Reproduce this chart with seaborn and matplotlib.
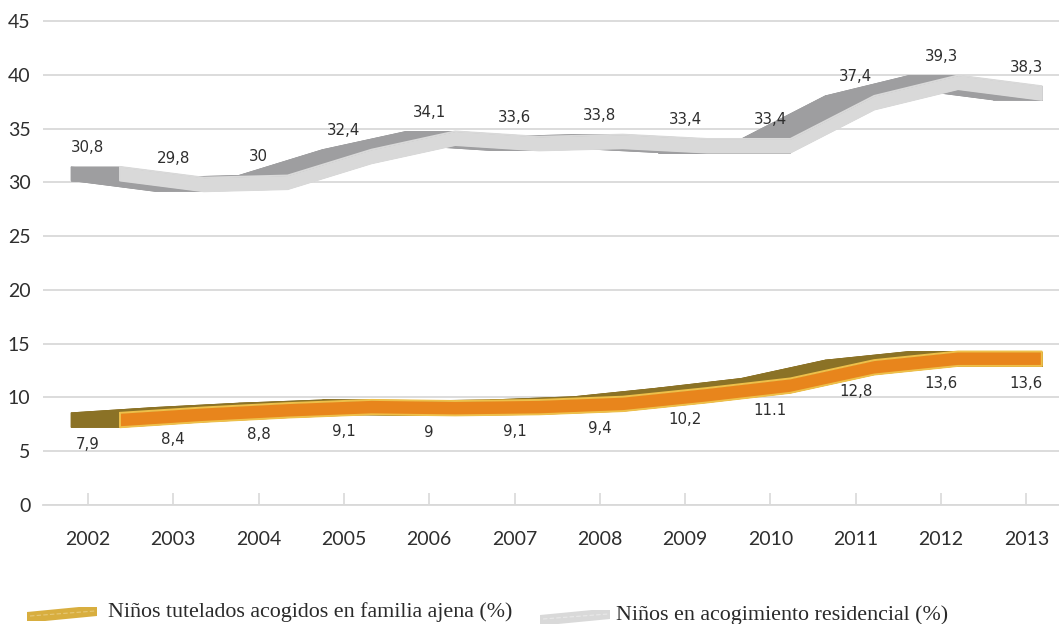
import numpy as np
import pandas as pd
import matplotlib
matplotlib.use("Agg")
import matplotlib.pyplot as plt
from matplotlib.patches import Polygon
import seaborn as sns

# ---- data -----------------------------------------------------------------
years = ["2002", "2003", "2004", "2005", "2006", "2007",
         "2008", "2009", "2010", "2011", "2012", "2013"]
residencial = [30.8, 29.8, 30.0, 32.4, 34.1, 33.6, 33.8, 33.4, 33.4, 37.4, 39.3, 38.3]
familia_ajena = [7.9, 8.4, 8.8, 9.1, 9.0, 9.1, 9.4, 10.2, 11.1, 12.8, 13.6, 13.6]
residencial_labels = ["30,8", "29,8", "30", "32,4", "34,1", "33,6",
                      "33,8", "33,4", "33,4", "37,4", "39,3", "38,3"]
familia_labels = ["7,9", "8,4", "8,8", "9,1", "9", "9,1",
                  "9,4", "10,2", "11.1", "12,8", "13,6", "13,6"]
legend_names = ["Niños tutelados acogidos en familia ajena (%)",
                "Niños en acogimiento residencial (%)"]
y_ticks = [0, 5, 10, 15, 20, 25, 30, 35, 40, 45]

# ---- figure / axes ----------------------------------------------------------
W, H = 1059, 624
sns.set_theme(style="whitegrid")
plt.rcParams["font.family"] = ["Lato", "DejaVu Sans"]

fig = plt.figure(figsize=(W / 100, H / 100), dpi=100)
UNIT_PX = 10.756          # pixels per percentage point
CAT_PX = 85.3             # pixels per year
Y_TOP = 45.3
ax_left, ax_bottom_px = 43, 505
ax_h_px = Y_TOP * UNIT_PX
ax = fig.add_axes([ax_left / W, (H - ax_bottom_px) / H, 1 - ax_left / W, ax_h_px / H])

x0_px = 88
ax.set_xlim((ax_left - x0_px) / CAT_PX, (W - x0_px) / CAT_PX)
ax.set_ylim(0, Y_TOP)

grid_c = "#d9d9d9"
text_c = "#2e2e2e"
ax.set_facecolor("white")
ax.grid(axis="y", color=grid_c, lw=1.3)
ax.grid(axis="x", visible=False)
for side in ["left", "right", "top"]:
    ax.spines[side].set_visible(False)
ax.spines["bottom"].set_color(grid_c)
ax.spines["bottom"].set_linewidth(1.3)

idx = np.arange(len(years))
ax.set_xticks(idx)
ax.set_xticklabels(years)
ax.set_yticks(y_ticks)
ax.set_yticklabels([str(t) for t in y_ticks])
ax.tick_params(axis="x", direction="in", length=8.5, width=1.2, color=grid_c,
               pad=19, labelsize=14, labelcolor=text_c, bottom=True)
ax.tick_params(axis="y", length=0, pad=9, labelsize=14, labelcolor=text_c)

# ---- 3-D ribbons ------------------------------------------------------------
PX_X = 1.0 / CAT_PX
PX_Y = 1.0 / UNIT_PX
depth = np.array([-49 * PX_X, 0.0])


def ribbon(values, face, side, edge, half_px):
    v = np.asarray(values, dtype=float)
    fx = idx + (32 - 1.5 * idx) * PX_X
    h = half_px * PX_Y
    top = np.column_stack([fx, v + h])
    bot = np.column_stack([fx, v - h])
    poly = np.vstack([top, bot[::-1]])

    # swept depth: back face plus the quads traced by every edge
    ax.add_patch(Polygon(poly + depth, closed=True, fc=side, ec=side, lw=0.6, zorder=3))
    n = len(poly)
    for k in range(n):
        p, q = poly[k], poly[(k + 1) % n]
        quad = np.array([p, q, q + depth, p + depth])
        ax.add_patch(Polygon(quad, closed=True, fc=side, ec=side, lw=0.6, zorder=3))

    # front face
    ax.fill_between(fx, v - h, v + h, color=face, lw=0, zorder=4)
    outline = pd.DataFrame({
        "x": np.concatenate([fx, fx[::-1], fx[:1]]),
        "y": np.concatenate([v + h, (v - h)[::-1], (v + h)[:1]]),
    })
    sns.lineplot(data=outline, x="x", y="y", sort=False, estimator=None,
                 color=edge, lw=1.4, ax=ax, zorder=5)


ribbon(residencial, "#d9d9d9", "#9e9ea0", "#d9d9d9", 6.8)
ribbon(familia_ajena, "#e8851c", "#8b7226", "#eec04a", 7.2)
ax.set_xlabel("")
ax.set_ylabel("")

# ---- value labels -----------------------------------------------------------
lab_kw = dict(ha="center", va="center", fontsize=10.8, color=text_c,
              family="DejaVu Sans", zorder=6)
for i, (v, s) in enumerate(zip(residencial, residencial_labels)):
    ax.text(i, v + 26 * PX_Y, s, **lab_kw)
for i, (v, s) in enumerate(zip(familia_ajena, familia_labels)):
    ax.text(i, v - 24.5 * PX_Y, s, **lab_kw)


# ---- legend -----------------------------------------------------------------
def fig_pt(x, y):
    return (x / W, 1 - y / H)


def swatch(x0, y0, color, shade):
    pts = [(x0, y0 + 13), (x0, y0 + 4), (x0 + 52, y0 - 1), (x0 + 70, y0 - 1),
           (x0 + 70, y0 + 8), (x0 + 18, y0 + 13)]
    fig.patches.append(Polygon([fig_pt(*p) for p in pts], closed=True, fc=color,
                               ec="none", transform=fig.transFigure))
    line = [(x0 + 3, y0 + 8), (x0 + 68, y0 + 3)]
    fig.lines.append(plt.Line2D([fig_pt(*p)[0] for p in line],
                                [fig_pt(*p)[1] for p in line],
                                color=shade, lw=0.8, ls=(0, (4, 2)),
                                transform=fig.transFigure))


swatch(27, 608, "#d8ae3f", "#e6c878")
swatch(540, 611, "#d9d9d9", "#e8e8e8")
leg_kw = dict(fontsize=15.8, color="#2a2a2a", family=["Liberation Serif"], va="center")
fig.text(*fig_pt(108, 612), legend_names[0], **leg_kw)
fig.text(*fig_pt(616, 615), legend_names[1], **leg_kw)

fig.savefig("out.png", dpi=100, facecolor="white")
